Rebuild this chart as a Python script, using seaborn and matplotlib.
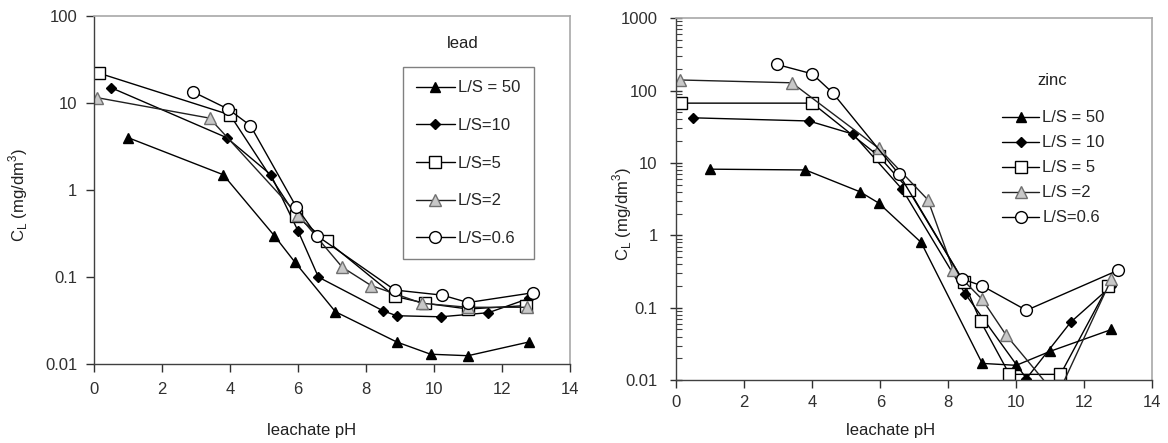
import numpy as np
import pandas as pd
import matplotlib
matplotlib.use("Agg")
import matplotlib.pyplot as plt
import matplotlib.ticker as mticker
import seaborn as sns

sns.set_theme(style="white")
plt.rcParams['font.family'] = ['Liberation Sans', 'DejaVu Sans']
plt.rcParams['mathtext.fontset'] = 'custom'
plt.rcParams['mathtext.rm'] = 'Liberation Sans'

# ---------------- data: lead ----------------
lead_ls50_x = [1.0, 3.8, 5.3, 5.9, 7.1, 8.9, 9.9, 11.0, 12.8]
lead_ls50_y = [4.0, 1.5, 0.3, 0.15, 0.04, 0.018, 0.013, 0.0125, 0.018]
lead_ls10_x = [0.5, 3.9, 5.2, 6.0, 6.6, 8.5, 8.9, 10.2, 11.6, 12.8]
lead_ls10_y = [15, 4.0, 1.5, 0.34, 0.1, 0.041, 0.036, 0.035, 0.039, 0.057]
lead_ls5_x = [0.15, 4.0, 5.95, 6.85, 8.85, 9.75, 11.0, 12.7]
lead_ls5_y = [22, 7.3, 0.5, 0.26, 0.06, 0.05, 0.043, 0.047]
lead_ls2_x = [0.1, 3.4, 6.0, 7.3, 8.15, 9.65, 11.0, 12.75]
lead_ls2_y = [11.5, 6.7, 0.52, 0.13, 0.08, 0.05, 0.045, 0.045]
lead_ls06_x = [2.9, 3.95, 4.6, 5.95, 6.55, 8.85, 10.25, 11.0, 12.9]
lead_ls06_y = [13.5, 8.5, 5.5, 0.64, 0.3, 0.071, 0.062, 0.051, 0.066]

# ---------------- data: zinc ----------------
zinc_ls50_x = [1.0, 3.8, 5.4, 5.95, 7.2, 9.0, 10.0, 11.0, 12.8]
zinc_ls50_y = [8.2, 8.0, 4.0, 2.8, 0.8, 0.017, 0.016, 0.025, 0.05]
zinc_ls10_x = [0.5, 3.9, 5.2, 6.65, 8.5, 10.3, 11.6, 12.8]
zinc_ls10_y = [42, 38, 25, 4.3, 0.155, 0.0105, 0.063, 0.2]
zinc_ls5_x = [0.15, 4.0, 5.95, 6.85, 8.45, 8.95, 9.8, 11.3, 12.7]
zinc_ls5_y = [67, 67, 12.5, 4.2, 0.23, 0.065, 0.012, 0.012, 0.2]
zinc_ls2_x = [0.1, 3.4, 5.95, 7.4, 8.15, 9.0, 9.7, 11.2, 12.8]
zinc_ls2_y = [140, 128, 16, 3.1, 0.33, 0.13, 0.042, 0.006, 0.25]
zinc_ls06_x = [2.95, 4.0, 4.6, 6.55, 8.4, 9.0, 10.3, 13.0]
zinc_ls06_y = [230, 170, 93, 7.0, 0.25, 0.2, 0.092, 0.33]

lead_labels = ["L/S = 50", "L/S=10", "L/S=5", "L/S=2", "L/S=0.6"]
zinc_labels = ["L/S = 50", "L/S = 10", "L/S = 5", "L/S =2", "L/S=0.6"]

styles = [
    dict(marker="^", markersize=7.5, markerfacecolor="black", markeredgecolor="black", color="black"),
    dict(marker="D", markersize=5.5, markerfacecolor="black", markeredgecolor="black", color="black"),
    dict(marker="s", markersize=8.5, markerfacecolor="white", markeredgecolor="black", color="black"),
    dict(marker="^", markersize=8.5, markerfacecolor="#c8c8c8", markeredgecolor="#707070", color="#202020"),
    dict(marker="o", markersize=8.5, markerfacecolor="white", markeredgecolor="black", color="black"),
]

fig = plt.figure(figsize=(11.68, 4.43), dpi=100)
axL = fig.add_axes([0.0805, 0.178, 0.4075, 0.786])
axR = fig.add_axes([0.579, 0.142, 0.4075, 0.817])

lead_series = [(lead_ls50_x, lead_ls50_y), (lead_ls10_x, lead_ls10_y), (lead_ls5_x, lead_ls5_y),
               (lead_ls2_x, lead_ls2_y), (lead_ls06_x, lead_ls06_y)]
zinc_series = [(zinc_ls50_x, zinc_ls50_y), (zinc_ls10_x, zinc_ls10_y), (zinc_ls5_x, zinc_ls5_y),
               (zinc_ls2_x, zinc_ls2_y), (zinc_ls06_x, zinc_ls06_y)]

for ax, series, labels in [(axL, lead_series, lead_labels), (axR, zinc_series, zinc_labels)]:
    for (xs, ys), lab, st in zip(series, labels, styles):
        df = pd.DataFrame({"pH": xs, "C": ys})
        sns.lineplot(data=df, x="pH", y="C", ax=ax, sort=False, label=lab,
                     linewidth=1.0, markeredgewidth=1.0, **st)

fs = 12
for ax in (axL, axR):
    ax.set_yscale("log")
    ax.set_xlim(0, 14)
    ax.set_xticks([0, 2, 4, 6, 8, 10, 12, 14])
    ax.yaxis.set_major_formatter(mticker.FuncFormatter(lambda v, p: ("%g" % v)))
    for s in ("left", "bottom"):
        ax.spines[s].set_color("#404040")
        ax.spines[s].set_linewidth(1.0)
    for s in ("top", "right"):
        ax.spines[s].set_color("#a8a8a8")
        ax.spines[s].set_linewidth(1.2)
    ax.tick_params(axis="both", which="major", labelsize=fs, colors="#303030",
                   length=6, width=1.0, bottom=True, left=True)
    ax.set_xlabel("leachate pH", fontsize=fs, color="#202020")
    ax.set_ylabel(r"C$_\mathregular{L}$ (mg/dm$^\mathregular{3}$)", fontsize=fs, color="#202020")
    ax.xaxis.label.set_verticalalignment("center")
    ax.yaxis.label.set_verticalalignment("center")

axL.set_ylim(0.01, 100)
axL.set_yticks([0.01, 0.1, 1, 10, 100])
axL.yaxis.set_minor_locator(mticker.NullLocator())
axL.tick_params(axis="y", which="major", direction="out", pad=6)
axL.tick_params(axis="x", which="major", direction="out", pad=7)

axR.set_ylim(0.01, 1000)
axR.set_yticks([0.01, 0.1, 1, 10, 100, 1000])
axR.yaxis.set_minor_locator(mticker.LogLocator(base=10, subs=np.arange(2, 10)))
axR.yaxis.set_minor_formatter(mticker.NullFormatter())
axR.tick_params(axis="y", which="major", direction="inout", length=9, pad=9)
axR.tick_params(axis="y", which="minor", direction="in", length=4, width=0.8, left=True, colors="#404040")
axR.tick_params(axis="x", which="major", direction="out", pad=5)

axL.xaxis.set_label_coords(0.458, -0.19)
axL.yaxis.set_label_coords(-0.16, 0.486)
axR.xaxis.set_label_coords(0.45, -0.138)
axR.yaxis.set_label_coords(-0.113, 0.46)

legL = axL.legend(loc="upper left", bbox_to_anchor=(0.649, 0.853), frameon=True, fancybox=False,
                  edgecolor="#606060", fontsize=fs, labelspacing=1.36, handlelength=2.3,
                  handletextpad=0.2, borderpad=0.8, borderaxespad=0)
legL.get_frame().set_linewidth(1.0)
axL.text(0.775, 0.92, "lead", transform=axL.transAxes, ha="center", va="center", fontsize=fs, color="#202020")

legR = axR.legend(loc="upper left", bbox_to_anchor=(0.685, 0.745), frameon=False, fontsize=fs,
                  labelspacing=0.6, handlelength=2.2, handletextpad=0.2, borderpad=0, borderaxespad=0)
axR.text(0.79, 0.829, "zinc", transform=axR.transAxes, ha="center", va="center", fontsize=fs, color="#202020")

fig.savefig("out.png", dpi=100)
